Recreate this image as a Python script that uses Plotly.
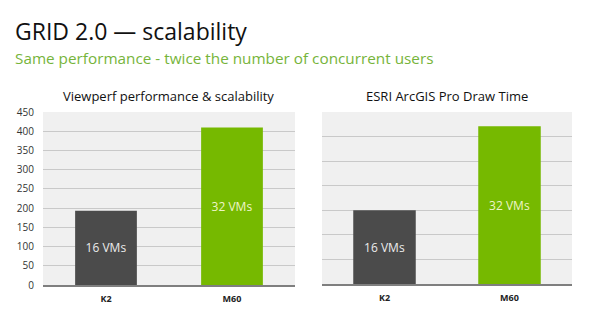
import plotly.graph_objects as go

categories = ["K2", "M60"]
viewperf_values = [193, 410]
arcgis_values = [3.0, 6.42]
bar_labels = ["16 VMs", "32 VMs"]
viewperf_ticks = [0, 50, 100, 150, 200, 250, 300, 350, 400, 450]

FONT = "Open Sans"
GREEN = "#76b900"
DARK = "#4b4b4b"
colors = [DARK, GREEN]
text_colors = ["#ececec", "#eef5c8"]

fig = go.Figure()

fig.add_trace(go.Bar(
    x=categories, y=viewperf_values, text=bar_labels,
    marker=dict(color=colors, line=dict(width=0)),
    textposition="inside", insidetextanchor="middle",
    textfont=dict(family=FONT, size=12, color=text_colors),
    width=0.49, xaxis="x", yaxis="y", hoverinfo="skip",
))
fig.add_trace(go.Bar(
    x=categories, y=arcgis_values, text=bar_labels,
    marker=dict(color=colors, line=dict(width=0)),
    textposition="inside", insidetextanchor="middle",
    textfont=dict(family=FONT, size=12, color=text_colors),
    width=0.5, xaxis="x2", yaxis="y2", hoverinfo="skip",
))

W, H = 600, 313
def px(x):
    return x / W
def py(y):
    return 1 - y / H

common_x = dict(showgrid=False, showline=True, linecolor="#7f7f7f", linewidth=1.5,
                ticks="", tickfont=dict(family=FONT, size=9, color="#222", weight="bold"),
                ticklabelstandoff=4, automargin=False, fixedrange=True)
common_y = dict(showgrid=True, gridcolor="#c9c9c9", gridwidth=1, zeroline=False,
                showline=False, ticks="", automargin=False, fixedrange=True)

fig.update_layout(
    width=W, height=H,
    margin=dict(l=0, r=0, t=0, b=0, pad=0),
    paper_bgcolor="white",
    plot_bgcolor="#f0f0f0",
    showlegend=False,
    bargap=0.5,
    xaxis=dict(domain=[px(43), px(295)], anchor="y", **common_x),
    yaxis=dict(domain=[py(285), py(112)], anchor="x", range=[0, 450],
               tickvals=viewperf_ticks, ticklabelstandoff=8,
               tickfont=dict(family=FONT, size=10, color="#333"), **common_y),
    xaxis2=dict(domain=[px(322), px(572)], anchor="y2", **common_x),
    yaxis2=dict(domain=[py(284), py(112)], anchor="x2", range=[0, 7], dtick=1,
                showticklabels=False, **common_y),
    annotations=[
        dict(text="GRID 2.0 — scalability", x=px(13), y=py(31), xref="paper", yref="paper",
             xanchor="left", yanchor="middle", showarrow=False,
             font=dict(family=FONT, size=23, color="#111")),
        dict(text="Same performance - twice the number of concurrent users", x=px(13), y=py(58),
             xref="paper", yref="paper", xanchor="left", yanchor="middle", showarrow=False,
             font=dict(family=FONT, size=15.3, color="#76b43a")),
        dict(text="Viewperf performance & scalability", x=px(168), y=py(96),
             xref="paper", yref="paper", xanchor="center", yanchor="middle", showarrow=False,
             font=dict(family=FONT, size=13, color="#111")),
        dict(text="ESRI ArcGIS Pro Draw Time", x=px(447), y=py(96),
             xref="paper", yref="paper", xanchor="center", yanchor="middle", showarrow=False,
             font=dict(family=FONT, size=13, color="#111")),
    ],
)

fig.write_html("out.html")
